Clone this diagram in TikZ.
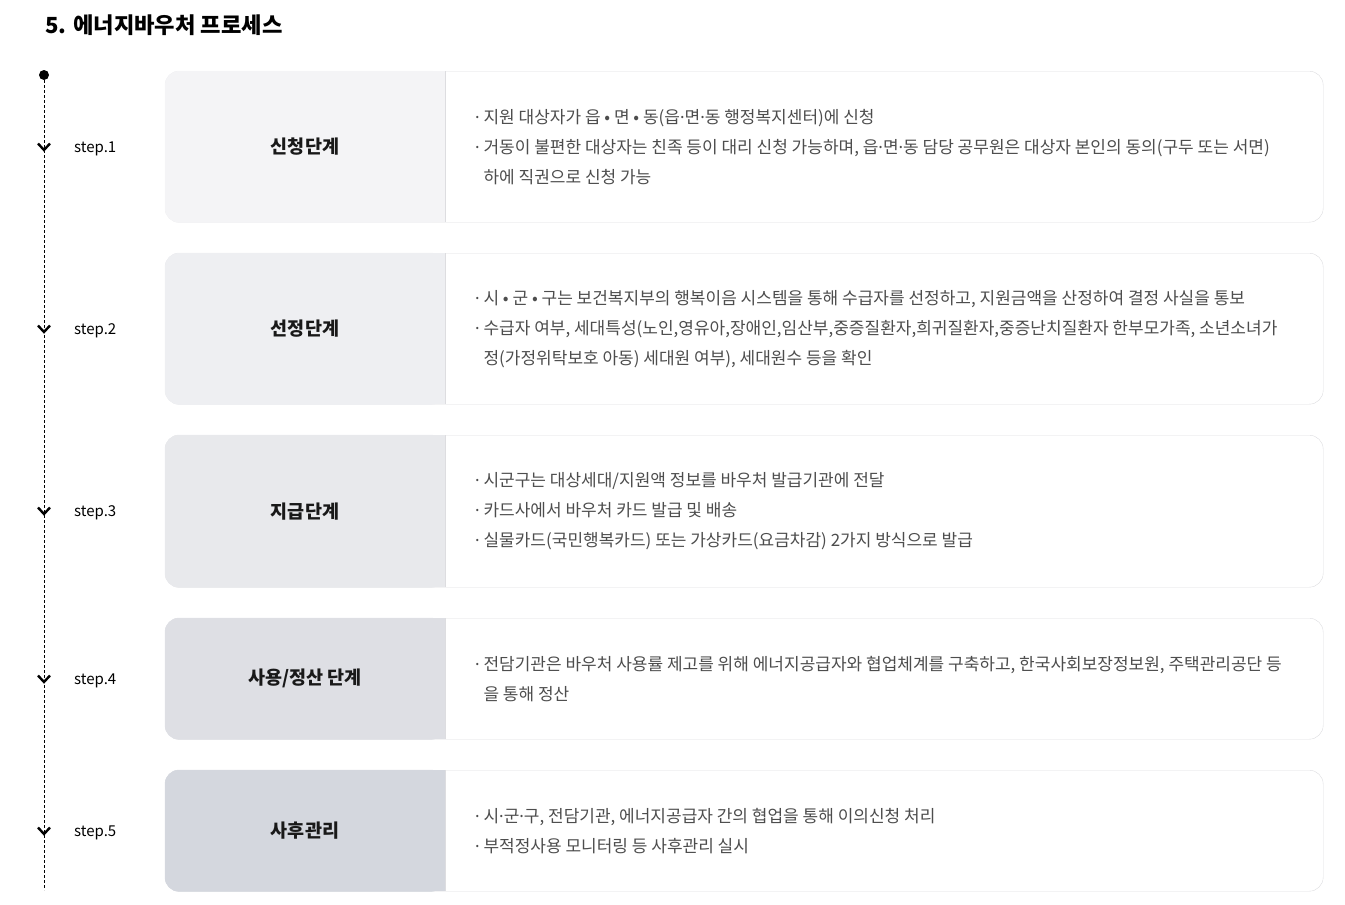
\documentclass[tikz,border=0pt]{standalone}
\usepackage{fontspec}
\setmainfont{Noto Sans CJK KR}
\newfontfamily\dotfont{Noto Sans}
\usetikzlibrary{positioning}

\definecolor{rule}{HTML}{DDDDE0}
\definecolor{body}{HTML}{4D4D4D}
\definecolor{st1}{HTML}{F4F4F6}
\definecolor{st2}{HTML}{EEEFF2}
\definecolor{st3}{HTML}{E8E9EC}
\definecolor{st4}{HTML}{DEDFE4}
\definecolor{st5}{HTML}{D4D7DE}

\tikzset{
 card/.style={draw=rule, fill=white, rounded corners=14pt, minimum width=1158pt, anchor=north west, inner sep=0pt},
 stage/.style={font=\fontsize{18.5}{22}\selectfont\bfseries, text=black!90},
 desc/.style={anchor=west, align=left, text=body, inner sep=0pt, font=\fontsize{17}{30}\selectfont},
 stepno/.style={anchor=west, inner sep=0pt, yshift=-1.5pt, font=\fontsize{15}{18}\selectfont},
 chev/.style={line width=2.4pt, line join=miter},
 timeline/.style={line width=0.9pt, dash pattern=on 3pt off 2pt}
}

\newcommand{\md}{{\dotfont ·}}
\newcommand{\cont}{\phantom{\md\ }}

\begin{document}
\begin{tikzpicture}[x=1pt,y=-1pt]
 \useasboundingbox (0,0) rectangle (1345,905);
 \node[anchor=west, inner sep=0pt, font=\fontsize{22.2}{26}\selectfont\bfseries] (title) at (45,25) {5. 에너지바우처 프로세스};

 % timeline
 \coordinate (top) at (44,75);
 \coordinate (bottom) at (44,890);
 \draw[timeline] (top) -- (bottom);
 \fill (top) circle (5pt);
 \coordinate (p1) at (44,147);
 \coordinate (p2) at (44,329);
 \coordinate (p3) at (44,511);
 \coordinate (p4) at (44,679);
 \coordinate (p5) at (44,831);
 \foreach \p in {p1,p2,p3,p4,p5}
  \draw[chev] ([xshift=-6pt,yshift=3.5pt]\p) -- ([yshift=-3pt]\p) -- ([xshift=6pt,yshift=3.5pt]\p);
 \node[stepno] (n1) [right=30pt of p1] {step.1};
 \node[stepno] (n2) [right=30pt of p2] {step.2};
 \node[stepno] (n3) [right=30pt of p3] {step.3};
 \node[stepno] (n4) [right=30pt of p4] {step.4};
 \node[stepno] (n5) [right=30pt of p5] {step.5};

 % cards
 \node[card, minimum height=151pt] (c1) at (165,71)  {};
 \node[card, minimum height=151pt] (c2) at (165,253) {};
 \node[card, minimum height=152pt] (c3) at (165,435) {};
 \node[card, minimum height=121pt] (c4) at (165,618) {};
 \node[card, minimum height=121pt] (c5) at (165,770) {};
 \foreach \c/\f in {c1/st1,c2/st2,c3/st3,c4/st4,c5/st5}{
  \filldraw[\f, rounded corners=14pt] (\c.north west) rectangle ([xshift=280pt]\c.south west);
  \fill[\f] ([xshift=140pt]\c.north west) rectangle ([xshift=280pt]\c.south west);
  \draw[rule] ([xshift=280pt]\c.north west) -- ([xshift=280pt]\c.south west);
 }

 \node[stage] (s1) at ([xshift=140pt]c1.west) {신청단계};
 \node[stage] (s2) at ([xshift=140pt]c2.west) {선정단계};
 \node[stage] (s3) at ([xshift=140pt]c3.west) {지급단계};
 \node[stage] (s4) at ([xshift=140pt]c4.west) {사용/정산 단계};
 \node[stage] (s5) at ([xshift=140pt]c5.west) {사후관리};

 \node[desc] (t1) at ([xshift=310pt]c1.west) {\md\ 지원 대상자가 읍 • 면 • 동(읍\md 면\md 동 행정복지센터)에 신청\\
  \md\ 거동이 불편한 대상자는 친족 등이 대리 신청 가능하며, 읍\md 면\md 동 담당 공무원은 대상자 본인의 동의(구두 또는 서면)\\
  \cont 하에 직권으로 신청 가능};
 \node[desc] (t2) at ([xshift=310pt]c2.west) {\md\ 시 • 군 • 구는 보건복지부의 행복이음 시스템을 통해 수급자를 선정하고, 지원금액을 산정하여 결정 사실을 통보\\
  \md\ 수급자 여부, 세대특성(노인,영유아,장애인,임산부,중증질환자,희귀질환자,중증난치질환자 한부모가족, 소년소녀가\\
  \cont 정(가정위탁보호 아동) 세대원 여부), 세대원수 등을 확인};
 \node[desc] (t3) at ([xshift=310pt]c3.west) {\md\ 시군구는 대상세대/지원액 정보를 바우처 발급기관에 전달\\
  \md\ 카드사에서 바우처 카드 발급 및 배송\\
  \md\ 실물카드(국민행복카드) 또는 가상카드(요금차감) 2가지 방식으로 발급};
 \node[desc] (t4) at ([xshift=310pt]c4.west) {\md\ 전담기관은 바우처 사용률 제고를 위해 에너지공급자와 협업체계를 구축하고, 한국사회보장정보원, 주택관리공단 등\\
  \cont 을 통해 정산};
 \node[desc] (t5) at ([xshift=310pt]c5.west) {\md\ 시\md 군\md 구, 전담기관, 에너지공급자 간의 협업을 통해 이의신청 처리\\
  \md\ 부적정사용 모니터링 등 사후관리 실시};
\end{tikzpicture}
\end{document}
